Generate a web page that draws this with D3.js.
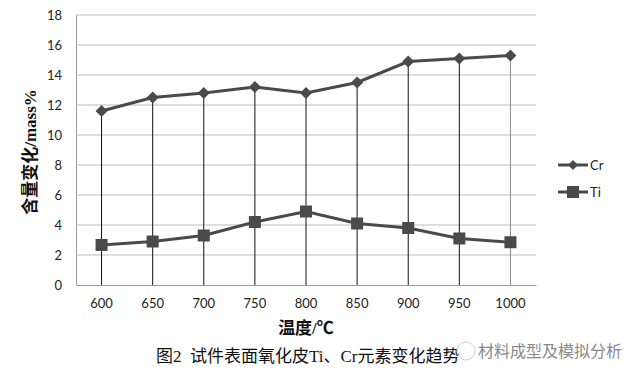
<!DOCTYPE html>
<html><head><meta charset="utf-8">
<script src="https://cdn.jsdelivr.net/npm/d3@7/dist/d3.min.js"></script>
<style>body{margin:0;background:#fff;}svg{display:block;}</style>
</head><body>
<svg id="chart" width="640" height="379"></svg>
<script>
const categories = ["600","650","700","750","800","850","900","950","1000"];
const crValues = [11.6,12.5,12.8,13.2,12.8,13.5,14.9,15.1,15.3];
const tiValues = [2.67,2.9,3.3,4.2,4.9,4.1,3.8,3.1,2.85];
const yTicks = [0,2,4,6,8,10,12,14,16,18];
const seriesNames = ["Cr","Ti"];

(function(){
const svg = d3.select("#chart");
const pL = 76, pR = 536, pT = 15, pB = 285;
const x = d3.scaleBand().domain(categories).range([pL, pR]);
const y = d3.scaleLinear().domain([0,18]).range([pB, pT]);
const cx = d => x(d) + x.bandwidth()/2;
const tickFont = "Lato, 'Open Sans', sans-serif";
const lineColor = "#4a4a4a";
const diamond = r => `M0,${-r}L${r},0L0,${r}L${-r},0Z`;

// gridlines
svg.append("g").selectAll("line").data(yTicks.filter(t=>t>0)).join("line")
  .attr("x1", pL).attr("x2", pR)
  .attr("y1", d=>y(d)).attr("y2", d=>y(d))
  .attr("stroke", "#bdbdbd").attr("stroke-width", 1);

// axes
const yAxis = svg.append("g").attr("transform", `translate(${pL},0)`)
  .call(d3.axisLeft(y).tickValues(yTicks).tickSize(0).tickPadding(14));
yAxis.select(".domain").attr("stroke", "#9a9a9a");
yAxis.selectAll("text").attr("font-family", tickFont).attr("font-size", 13).attr("fill", "#222");

const xAxis = svg.append("g").attr("transform", `translate(0,${pB})`)
  .call(d3.axisBottom(x).tickSize(0).tickPadding(14));
xAxis.select(".domain").attr("stroke", "#9a9a9a");
xAxis.selectAll("text").attr("font-family", tickFont).attr("font-size", 13).attr("fill", "#222");

// drop lines
svg.append("g").selectAll("line").data(categories).join("line")
  .attr("x1", d=>cx(d)).attr("x2", d=>cx(d))
  .attr("y1", (d,i)=>y(crValues[i])).attr("y2", pB)
  .attr("stroke", (d,i)=> i===categories.length-1 ? "#888" : "#111")
  .attr("stroke-width", 1);

const line = d3.line().x((d,i)=>cx(categories[i])).y(d=>y(d));

// Cr
svg.append("path").datum(crValues).attr("d", line)
  .attr("fill","none").attr("stroke", lineColor).attr("stroke-width", 3);
svg.append("g").selectAll("path").data(crValues).join("path")
  .attr("d", diamond(6))
  .attr("transform", (d,i)=>`translate(${cx(categories[i])},${y(d)})`)
  .attr("fill", lineColor);

// Ti
svg.append("path").datum(tiValues).attr("d", line)
  .attr("fill","none").attr("stroke", lineColor).attr("stroke-width", 3);
svg.append("g").selectAll("rect").data(tiValues).join("rect")
  .attr("x", (d,i)=>cx(categories[i])-6).attr("y", d=>y(d)-6)
  .attr("width", 12).attr("height", 12).attr("fill", lineColor);

// legend
const legY = [165, 192];
seriesNames.forEach((name, i) => {
  const g = svg.append("g").attr("transform", `translate(558,${legY[i]})`);
  g.append("line").attr("x1",0).attr("x2",30).attr("stroke",lineColor).attr("stroke-width",3);
  if (i===0) g.append("path").attr("d", diamond(5)).attr("transform","translate(15,0)").attr("fill",lineColor);
  else g.append("rect").attr("x",9).attr("y",-6).attr("width",12).attr("height",12).attr("fill",lineColor);
  g.append("text").attr("x",32).attr("y",5).text(name)
    .attr("font-family", tickFont).attr("font-size", 13).attr("fill","#222");
});

// axis titles
svg.append("text").attr("x", 306).attr("y", 334).attr("text-anchor","middle")
  .attr("font-family","'Liberation Serif','Noto Sans CJK SC',serif").attr("font-weight","bold")
  .attr("font-size", 17).attr("fill","#111").text("温度/℃");
svg.append("text").attr("transform","translate(36,152) rotate(-90)").attr("text-anchor","middle")
  .attr("font-family","'Liberation Serif','Noto Sans CJK SC',serif").attr("font-weight","bold")
  .attr("font-size", 17).attr("fill","#111").text("含量变化/mass%");

// caption
svg.append("text").attr("x", 156).attr("y", 362).attr("xml:space","preserve").style("white-space","pre")
  .attr("font-family","'Liberation Serif','Noto Sans CJK SC',serif")
  .attr("font-size", 17).attr("fill","#111").text("图2  试件表面氧化皮Ti、Cr元素变化趋势");

// watermark
svg.append("circle").attr("cx", 466).attr("cy", 351).attr("r", 9)
  .attr("fill","none").attr("stroke","#ccc").attr("stroke-width",1);
svg.append("text").attr("x", 478).attr("y", 357)
  .attr("font-family","'Noto Sans CJK SC',sans-serif")
  .attr("font-size", 16).attr("fill","#888").text("材料成型及模拟分析");
})();
</script>
</body></html>
